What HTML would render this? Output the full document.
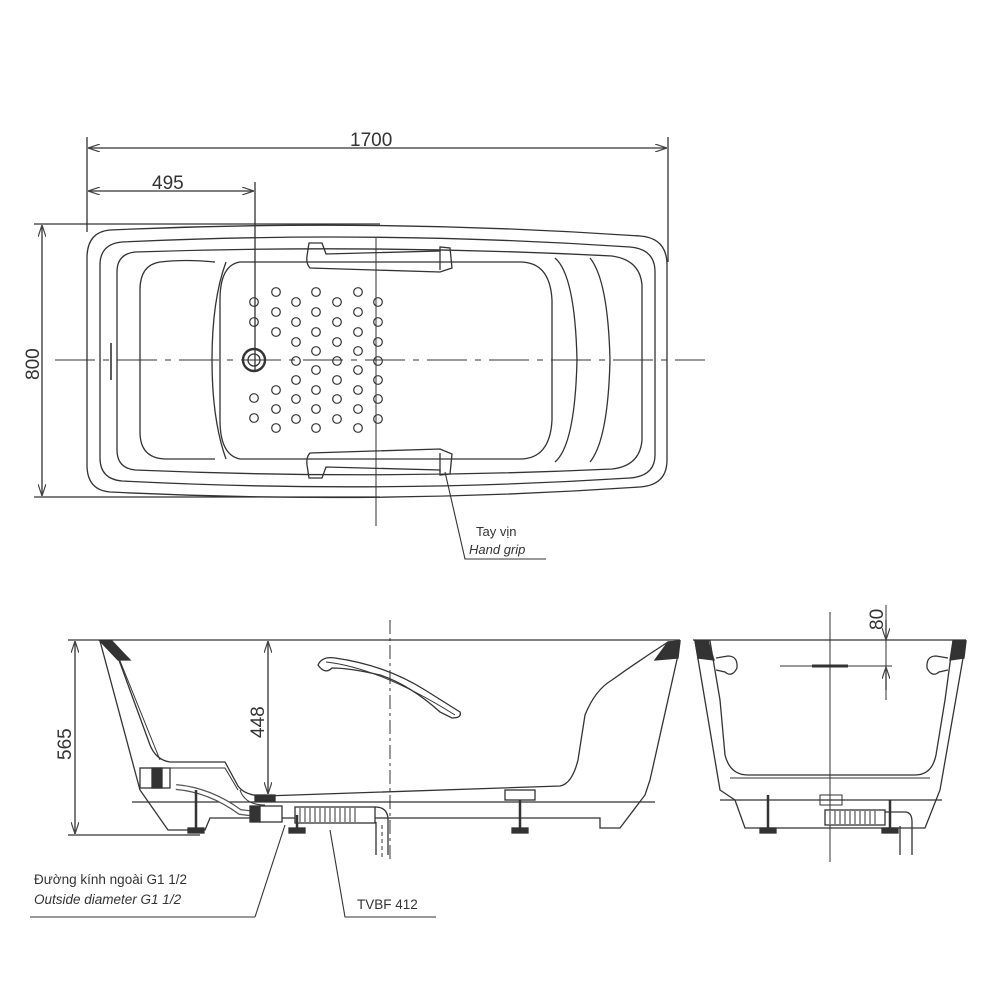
<!DOCTYPE html>
<html><head><meta charset="utf-8"><style>
html,body{margin:0;padding:0;background:#fff;}
svg{display:block;}
text{font-family:"Liberation Sans",sans-serif;fill:#333;}
</style></head><body>
<svg width="1000" height="1000" viewBox="0 0 1000 1000" xmlns="http://www.w3.org/2000/svg">
<defs>
<marker id="a" viewBox="0 0 12 8" refX="12" refY="4" markerWidth="12" markerHeight="8" orient="auto-start-reverse" markerUnits="userSpaceOnUse"><path d="M0,0 L12,4 L0,8" fill="none" stroke="#444" stroke-width="1.2"/></marker>
</defs>
<g stroke="#333" fill="none" stroke-width="1.3">
<!-- TOP VIEW dims -->
<line x1="87" y1="137" x2="87" y2="232"/>
<line x1="668" y1="137" x2="668" y2="262"/>
<line x1="255" y1="182" x2="255" y2="372"/>
<line x1="88" y1="148" x2="667" y2="148" marker-start="url(#a)" marker-end="url(#a)"/>
<line x1="88" y1="191" x2="254" y2="191" marker-start="url(#a)" marker-end="url(#a)"/>
<line x1="34" y1="224" x2="380" y2="224"/>
<line x1="34" y1="497" x2="380" y2="497"/>
<line x1="42" y1="225" x2="42" y2="496" marker-start="url(#a)" marker-end="url(#a)"/>
<!-- tub outlines -->
<path d="M110,230 Q375,218 640,236 Q667,238 667,265 L667,460 Q667,485 640,487 Q375,505 110,492 Q87,490 87,465 L87,258 Q87,232 110,230 Z"/>
<path d="M122,242 Q375,230 630,247 Q655,249 655,272 L655,455 Q655,476 630,478 Q375,494 122,481 Q100,479 100,458 L100,265 Q100,244 122,242 Z"/>
<path d="M135,252 Q375,244 612,256 Q640,260 642,285 L642,440 Q640,466 612,469 Q375,480 135,470 Q117,468 117,450 L117,272 Q117,254 135,252 Z"/>
<path d="M215,262 Q185,259 160,262 Q140,265 140,290 L140,432 Q140,458 165,459 L215,459"/>
<path d="M226,262 Q212,300 212,360 Q212,420 226,459"/>
<path d="M240,262 L520,262 Q550,262 552,300 L552,420 Q550,459 520,459 L240,459 Q220,455 220,420 L220,300 Q220,265 240,262 Z"/>
<path d="M555,258 Q575,275 577,360 Q575,445 555,462"/>
<path d="M590,258 Q608,280 610,360 Q608,440 590,462"/>
<!-- handles -->
<path d="M309,243 L322,243 L326,254 L440,251 L440,247 L450,248 L452,268 L440,272 L310,268 Q306,264 307,256 Z"/>
<line x1="440" y1="250" x2="440" y2="270"/>
<path d="M309,478 L322,478 L326,467 L440,470 L440,475 L450,474 L452,454 L440,449 L310,453 Q306,457 307,465 Z"/>
<line x1="440" y1="453" x2="440" y2="472"/>
<!-- center lines -->
<line x1="55" y1="360" x2="705" y2="360" stroke-dasharray="40,8,6,8" stroke-width="1"/>
<line x1="376" y1="238" x2="376" y2="526" stroke-width="1"/>
<line x1="111" y1="343" x2="111" y2="380" stroke-width="1.6"/>
<!-- drain -->
<circle cx="254" cy="360" r="11" stroke-width="2.4"/>
<circle cx="254" cy="360" r="6"/>
<g stroke-width="1.2">
<circle cx="254" cy="302" r="4.3"/><circle cx="254" cy="322" r="4.3"/><circle cx="254" cy="398" r="4.3"/><circle cx="254" cy="418" r="4.3"/>
<circle cx="276" cy="292" r="4.3"/><circle cx="276" cy="312" r="4.3"/><circle cx="276" cy="332" r="4.3"/><circle cx="276" cy="390" r="4.3"/><circle cx="276" cy="409" r="4.3"/><circle cx="276" cy="428" r="4.3"/>
<circle cx="296" cy="302" r="4.3"/><circle cx="296" cy="322" r="4.3"/><circle cx="296" cy="342" r="4.3"/><circle cx="296" cy="361" r="4.3"/><circle cx="296" cy="380" r="4.3"/><circle cx="296" cy="399" r="4.3"/><circle cx="296" cy="419" r="4.3"/>
<circle cx="316" cy="292" r="4.3"/><circle cx="316" cy="312" r="4.3"/><circle cx="316" cy="332" r="4.3"/><circle cx="316" cy="351" r="4.3"/><circle cx="316" cy="370" r="4.3"/><circle cx="316" cy="390" r="4.3"/><circle cx="316" cy="409" r="4.3"/><circle cx="316" cy="428" r="4.3"/>
<circle cx="337" cy="302" r="4.3"/><circle cx="337" cy="322" r="4.3"/><circle cx="337" cy="342" r="4.3"/><circle cx="337" cy="361" r="4.3"/><circle cx="337" cy="380" r="4.3"/><circle cx="337" cy="399" r="4.3"/><circle cx="337" cy="419" r="4.3"/>
<circle cx="358" cy="292" r="4.3"/><circle cx="358" cy="312" r="4.3"/><circle cx="358" cy="332" r="4.3"/><circle cx="358" cy="351" r="4.3"/><circle cx="358" cy="370" r="4.3"/><circle cx="358" cy="390" r="4.3"/><circle cx="358" cy="409" r="4.3"/><circle cx="358" cy="428" r="4.3"/>
<circle cx="378" cy="302" r="4.3"/><circle cx="378" cy="322" r="4.3"/><circle cx="378" cy="342" r="4.3"/><circle cx="378" cy="361" r="4.3"/><circle cx="378" cy="380" r="4.3"/><circle cx="378" cy="399" r="4.3"/><circle cx="378" cy="419" r="4.3"/>
</g>
<polyline points="445,472 465,559 546,559" stroke-width="1.1"/>

<!-- SIDE VIEW -->
<line x1="68" y1="640" x2="680" y2="640"/>
<line x1="68" y1="835" x2="200" y2="835"/>
<line x1="75" y1="641" x2="75" y2="834" marker-start="url(#a)" marker-end="url(#a)"/>
<line x1="268" y1="641" x2="268" y2="794" marker-start="url(#a)" marker-end="url(#a)"/>
<line x1="390" y1="620" x2="390" y2="862" stroke-dasharray="14,4,3,4" stroke-width="1"/>
<path d="M100,641 L112,641 L150,745 Q156,760 170,762 L225,762 L238,786 Q245,796 265,796 L560,786 Q572,784 578,760 L585,715 Q595,690 612,680 Q640,660 668,642 L680,641 L678,655 L650,780 L645,795 L620,828 L600,828 L600,818 L210,818 L205,830 L168,830 L140,790 Z"/>
<path d="M112,641 L160,760" stroke-width="1"/>
<path d="M100,641 L112,641 L130,660 L118,660 Z" fill="#333"/>
<path d="M680,641 L668,642 L655,660 L678,658 Z" fill="#333"/>
<line x1="132" y1="802" x2="655" y2="802"/>
<path d="M170,768 L225,768 L238,790 M240,790 Q245,805 265,805" stroke-width="1"/>
<path d="M176,787 Q210,790 240,812 L265,815" stroke-width="6" stroke="#555"/>
<path d="M176,787 Q210,790 240,812 L265,815" stroke-width="3.5" stroke="#fff"/>
<rect x="140" y="768" width="30" height="20" fill="#fff"/>
<rect x="152" y="768" width="10" height="20" fill="#333"/>
<rect x="255" y="795" width="20" height="6" fill="#333"/>
<rect x="250" y="806" width="10" height="16" fill="#333"/>
<rect x="260" y="806" width="22" height="16" fill="#fff"/>
<rect x="295" y="807" width="80" height="16" fill="#fff"/>
<g stroke-width="1">
<line x1="300" y1="808" x2="300" y2="822"/><line x1="305" y1="808" x2="305" y2="822"/><line x1="310" y1="808" x2="310" y2="822"/><line x1="315" y1="808" x2="315" y2="822"/><line x1="320" y1="808" x2="320" y2="822"/><line x1="325" y1="808" x2="325" y2="822"/><line x1="330" y1="808" x2="330" y2="822"/><line x1="335" y1="808" x2="335" y2="822"/><line x1="340" y1="808" x2="340" y2="822"/><line x1="345" y1="808" x2="345" y2="822"/><line x1="350" y1="808" x2="350" y2="822"/><line x1="355" y1="808" x2="355" y2="822"/>
</g>
<path d="M375,807 Q388,807 388,820 L388,855 M376,822 L376,855" />
<line x1="382" y1="825" x2="382" y2="860" stroke-dasharray="4,3" stroke-width="1"/>
<line x1="196" y1="790" x2="196" y2="828" stroke-width="2.5"/><rect x="188" y="828" width="16" height="5" fill="#333"/>
<line x1="297" y1="815" x2="297" y2="828" stroke-width="2.5"/><rect x="289" y="828" width="16" height="5" fill="#333"/>
<line x1="520" y1="800" x2="520" y2="828" stroke-width="2.5"/><rect x="512" y="828" width="16" height="5" fill="#333"/>
<rect x="505" y="790" width="30" height="10"/>
<path d="M318,665 Q322,656 335,658 Q385,665 425,690 L460,712 Q462,718 452,718 L440,712 Q410,685 380,675 Q350,668 332,668 Q325,675 318,665 Z"/>
<path d="M326,662 Q380,668 455,715" stroke-width="0.9"/>
<polyline points="255,917 30,917" stroke-width="1.1"/>
<line x1="255" y1="917" x2="285" y2="825" stroke-width="1.1"/>
<polyline points="436,917 345,917 330,830" stroke-width="1.1"/>

<!-- END VIEW -->
<line x1="693" y1="640" x2="966" y2="640"/>
<path d="M695,641 L710,641 L720,700 L725,755 Q730,775 748,775 L915,775 Q932,775 936,755 L945,700 L953,641 L966,641 L940,790 L925,828 L745,828 L735,800 L720,790 Z"/>
<path d="M695,641 L708,641 L714,660 L698,658 Z" fill="#333"/>
<path d="M966,641 L953,641 L950,660 L964,658 Z" fill="#333"/>
<line x1="720" y1="800" x2="942" y2="800"/>
<line x1="730" y1="778" x2="930" y2="778" stroke-width="1"/>
<path d="M716,658 L728,656 Q738,656 737,668 Q732,678 725,672 L716,670" />
<path d="M948,658 L936,656 Q926,656 927,668 Q932,678 939,672 L948,670" />
<line x1="830" y1="612" x2="830" y2="862" stroke-width="1"/>
<line x1="780" y1="666" x2="892" y2="666" stroke-width="1"/>
<line x1="812" y1="666" x2="848" y2="666" stroke-width="3"/>
<line x1="886" y1="605" x2="886" y2="700" stroke-width="1"/>
<line x1="886" y1="620" x2="886" y2="640" marker-end="url(#a)"/>
<line x1="886" y1="690" x2="886" y2="667" marker-end="url(#a)"/>
<rect x="825" y="810" width="60" height="15" fill="#fff"/>
<g stroke-width="1">
<line x1="830" y1="811" x2="830" y2="824"/><line x1="835" y1="811" x2="835" y2="824"/><line x1="840" y1="811" x2="840" y2="824"/><line x1="845" y1="811" x2="845" y2="824"/><line x1="850" y1="811" x2="850" y2="824"/><line x1="855" y1="811" x2="855" y2="824"/><line x1="860" y1="811" x2="860" y2="824"/><line x1="865" y1="811" x2="865" y2="824"/><line x1="870" y1="811" x2="870" y2="824"/><line x1="875" y1="811" x2="875" y2="824"/>
</g>
<path d="M885,812 L905,812 Q912,812 912,822 L912,855 M900,826 L900,855"/>
<line x1="768" y1="795" x2="768" y2="828" stroke-width="2.5"/><rect x="760" y="828" width="16" height="5" fill="#333"/>
<line x1="890" y1="800" x2="890" y2="828" stroke-width="2.5"/><rect x="882" y="828" width="16" height="5" fill="#333"/>
<rect x="820" y="795" width="22" height="10" stroke-width="1"/>
</g>
<!-- texts -->
<text x="350" y="146" font-size="19">1700</text>
<text x="152" y="189" font-size="19">495</text>
<text transform="translate(39,380) rotate(-90)" font-size="19">800</text>
<text transform="translate(71,760) rotate(-90)" font-size="19">565</text>
<text transform="translate(264,738) rotate(-90)" font-size="19">448</text>
<text transform="translate(883,630) rotate(-90)" font-size="19">80</text>
<text x="476" y="536" font-size="13">Tay vịn</text>
<text x="469" y="554" font-size="13" font-style="italic">Hand grip</text>
<text x="34" y="884" font-size="13.5">Đường kính ngoài G1 1/2</text>
<text x="34" y="904" font-size="13.5" font-style="italic">Outside diameter G1 1/2</text>
<text x="357" y="909" font-size="13.5">TVBF 412</text>
</svg>
</body></html>
